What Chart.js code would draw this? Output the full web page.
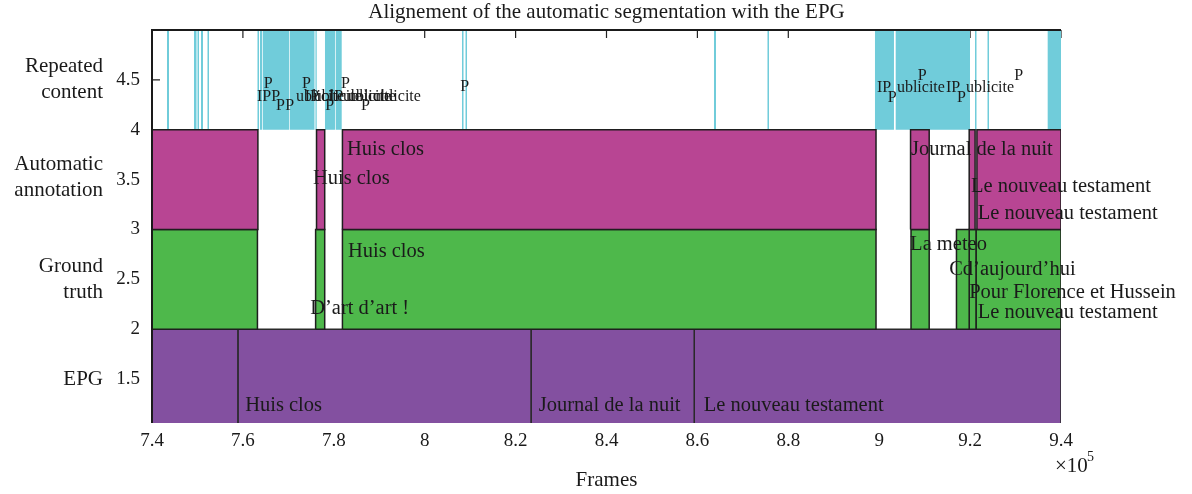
<!DOCTYPE html>
<html>
<head>
<meta charset="utf-8">
<script src="https://cdn.jsdelivr.net/npm/chart.js@4.4.0/dist/chart.umd.min.js"></script>
<style>
  body { margin: 0; background: #fff; }
  canvas { display: block; }
</style>
</head>
<body>
<canvas id="segChart" width="1192" height="494"></canvas>
<script>
// frames, x axis
const xTicks = [740000, 760000, 780000, 800000, 820000, 840000, 860000, 880000, 900000, 920000, 940000];
const yTicks = [1.5, 2, 2.5, 3, 3.5, 4, 4.5];
const bandNames = [['Repeated', 'content'], ['Automatic', 'annotation'], ['Ground', 'truth'], ['EPG']];
const bandCenters = [4.5, 3.52, 2.5, 1.5];

// repeated content (cyan), y 4..5
const repeatedStart = [743300, 749240, 749790, 750120, 750780, 752210, 763210, 763760, 764360, 770360, 775970,
  778060, 780420, 808210, 808980, 863650, 875420, 899070, 903630, 921080, 923830, 937070];
const repeatedEnd = [743740, 749680, 750010, 750340, 751220, 752540, 763540, 764200, 770210, 775750, 776240,
  780260, 781740, 808540, 809310, 864090, 875750, 903250, 919980, 921410, 924160, 940000];
const repeatedLabels = ['IPP', 'P', 'P', 'P', 'ublicite', 'P', 'IP', 'ublicite', 'P', 'IPublicite', 'P', 'ublicite', 'P', 'ublicite', 'P',
  'IP', 'P', 'ublicite', 'P', 'IP', 'P', 'ublicite', 'P'];
const repeatedLabelX = [763100, 764600, 767300, 769300, 771700, 773000, 773600, 775600, 778100, 778900, 781600, 783100, 786000, 788600, 807800,
  899500, 901900, 903900, 908500, 914700, 917100, 919100, 929700];
const repeatedLabelY = [4.33, 4.46, 4.24, 4.24, 4.33, 4.46, 4.33, 4.33, 4.24, 4.33, 4.46, 4.33, 4.24, 4.33, 4.43,
  4.42, 4.32, 4.42, 4.54, 4.42, 4.32, 4.42, 4.54];

// automatic annotation (magenta), y 3..4
const autoStart = [740000, 776200, 781900, 906900, 919800, 921500];
const autoEnd = [763300, 778000, 899300, 911000, 921100, 940000];
const autoLabels = ['Huis clos', 'Huis clos', 'Journal de la nuit', 'Le nouveau testament', 'Le nouveau testament'];
const autoLabelX = [782900, 775400, 907000, 920200, 921700];
const autoLabelY = [3.80, 3.51, 3.80, 3.43, 3.16];

// ground truth (green), y 2..3
const truthStart = [740000, 776000, 781900, 907000, 917000, 919800, 921300];
const truthEnd = [763200, 778000, 899300, 911000, 919800, 921300, 940000];
const truthLabels = ['Huis clos', 'D\u2019art d\u2019art !', 'La meteo', 'Cd\u2019aujourd\u2019hui', 'Pour Florence et Hussein', 'Le nouveau testament'];
const truthLabelX = [783100, 774800, 906800, 915400, 919800, 921700];
const truthLabelY = [2.78, 2.21, 2.85, 2.60, 2.37, 2.17];

// EPG (purple), y 1..2
const epgStart = [740000, 758900, 823400, 859300];
const epgEnd = [758900, 823400, 859300, 940000];
const epgLabels = ['Huis clos', 'Journal de la nuit', 'Le nouveau testament'];
const epgLabelX = [760500, 825100, 861400];
const epgLabelY = [1.23, 1.23, 1.23];

const SERIF = '"Liberation Serif", "DejaVu Serif", serif';

function rects(starts, ends, lo, hi, color, border, bw) {
  return starts.map((s, i) => ({
    data: [{x: s, y: lo}, {x: s, y: hi}, {x: ends[i], y: hi}, {x: ends[i], y: lo}, {x: s, y: lo}],
    showLine: true,
    fill: 'shape',
    backgroundColor: color,
    borderColor: border,
    borderWidth: bw,
    pointRadius: 0,
    pointHoverRadius: 0,
    tension: 0
  }));
}

const datasets = [].concat(
  rects(autoStart, autoEnd, 3, 4, '#b84593', '#1e1e1e', 1.5),
  rects(truthStart, truthEnd, 2, 3, '#4eb84b', '#1e1e1e', 1.5),
  rects(epgStart, epgEnd, 1, 2, '#8350a0', '#2a2a2a', 1.5),
  rects(repeatedStart, repeatedEnd, 4, 5, '#70ccda', 'rgba(0,0,0,0)', 0)
);

const textSets = [
  {labels: repeatedLabels, xs: repeatedLabelX, ys: repeatedLabelY, size: 16},
  {labels: autoLabels, xs: autoLabelX, ys: autoLabelY, size: 20.5},
  {labels: truthLabels, xs: truthLabelX, ys: truthLabelY, size: 20.5},
  {labels: epgLabels, xs: epgLabelX, ys: epgLabelY, size: 20.5}
];

const decor = {
  id: 'decor',
  beforeDatasetsDraw(chart) {
    const {ctx, chartArea: a, scales: {x, y}} = chart;
    ctx.save();
    ctx.strokeStyle = '#222';
    ctx.lineWidth = 1.2;
    ctx.beginPath();
    x.ticks.forEach(t => {
      const px = x.getPixelForValue(t.value);
      ctx.moveTo(px, a.top); ctx.lineTo(px, a.top + 8);
    });
    y.ticks.forEach(t => {
      const py = y.getPixelForValue(t.value);
      ctx.moveTo(a.left, py); ctx.lineTo(a.left + 8, py);
    });
    ctx.stroke();
    ctx.restore();
  },
  afterDatasetsDraw(chart) {
    const {ctx, chartArea: a, scales: {x, y}} = chart;
    ctx.save();
    // box
    ctx.strokeStyle = '#1a1a1a';
    ctx.lineWidth = 2;
    ctx.beginPath();
    ctx.moveTo(a.left, a.bottom); ctx.lineTo(a.left, a.top); ctx.lineTo(a.right, a.top);
    ctx.stroke();
    // segment labels
    ctx.fillStyle = '#1a1a1a';
    ctx.textAlign = 'left';
    ctx.textBaseline = 'middle';
    textSets.forEach(set => {
      ctx.font = set.size + 'px ' + SERIF;
      set.labels.forEach((txt, i) => {
        ctx.fillText(txt, x.getPixelForValue(set.xs[i]), y.getPixelForValue(set.ys[i]));
      });
    });
    ctx.restore();
  },
  afterDraw(chart) {
    const {ctx, chartArea: a, scales: {y}} = chart;
    ctx.save();
    ctx.fillStyle = '#1a1a1a';
    ctx.textBaseline = 'middle';
    ctx.font = '21px ' + SERIF;
    ctx.textAlign = 'center';
    ctx.fillText('Alignement of the automatic segmentation with the EPG', (a.left + a.right) / 2, 12);
    ctx.fillText('Frames', (a.left + a.right) / 2, 480);
    ctx.textAlign = 'left';
    ctx.fillText('\u00d710', a.right - 6, 466);
    ctx.font = '14px ' + SERIF;
    ctx.fillText('5', a.right + 26, 457);
    ctx.font = '21px ' + SERIF;
    ctx.textAlign = 'right';
    bandNames.forEach((lines, i) => {
      const cy = y.getPixelForValue(bandCenters[i]);
      const lh = 26;
      lines.forEach((ln, j) => {
        ctx.fillText(ln, a.left - 49, cy + (j - (lines.length - 1) / 2) * lh);
      });
    });
    ctx.restore();
  }
};

new Chart(document.getElementById('segChart').getContext('2d'), {
  type: 'scatter',
  data: {datasets},
  options: {
    responsive: false,
    animation: false,
    events: [],
    layout: {padding: {top: 30, right: 131, left: 0, bottom: 0}},
    plugins: {legend: {display: false}, tooltip: {enabled: false}, title: {display: false}},
    scales: {
      x: {
        type: 'linear',
        min: 740000,
        max: 940000,
        afterFit(scale) { scale.height = 71; },
        afterBuildTicks(scale) { scale.ticks = xTicks.map(v => ({value: v})); },
        grid: {display: false, drawTicks: false},
        border: {display: false},
        ticks: {
          padding: 7,
          color: '#1a1a1a',
          font: {family: SERIF, size: 19},
          maxRotation: 0,
          autoSkip: false,
          callback: v => String(+(v / 1e5).toFixed(1))
        }
      },
      y: {
        type: 'linear',
        min: 1.06,
        max: 5,
        afterFit(scale) { scale.width = 152; },
        afterBuildTicks(scale) { scale.ticks = yTicks.map(v => ({value: v})); },
        grid: {display: false, drawTicks: false},
        border: {display: false},
        ticks: {
          padding: 12,
          color: '#1a1a1a',
          font: {family: SERIF, size: 19},
          callback: v => String(v)
        }
      }
    }
  },
  plugins: [decor]
});
</script>
</body>
</html>
